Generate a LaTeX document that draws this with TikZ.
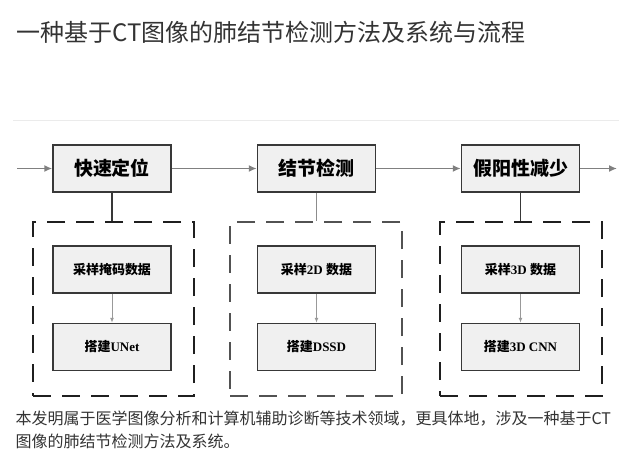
\documentclass[tikz,border=0pt]{standalone}
\usepackage{fontspec}
\setmainfont{Liberation Serif}
\newfontfamily\cjk{Noto Sans CJK SC}
\usetikzlibrary{arrows.meta}

\newcommand{\zh}[1]{{\cjk #1}}

\tikzset{
    stage/.style={draw=black!78, line width=1.5pt, fill=black!6, minimum width=118pt,
        minimum height=47pt, inner sep=0pt, font=\bfseries\fontsize{19}{19}\selectfont},
    substep/.style={stage, font=\bfseries\fontsize{13}{13}\selectfont},
    group/.style={draw=black!88, line width=2.6pt, dash pattern=on 18pt off 11pt,
        minimum height=174pt, inner sep=0pt},
    flow/.style={draw=black!50, line width=1.5pt, -{Latex[length=8pt,width=7pt]}},
    inflow/.style={draw=black!40, line width=1pt, -{Latex[length=5pt,width=4pt]}},
}

\begin{document}
\begin{tikzpicture}[x=1pt, y=-1pt]
    \useasboundingbox (0,0) rectangle (619,456);

    \node[anchor=west, text=black!80, font=\cjk\fontsize{24}{24}\selectfont] (title) at (13,32.5) {一种基于CT图像的肺结节检测方法及系统与流程};
    \draw[black!8, line width=1pt] (13,120.5) -- (619,120.5);

    % main stages
    \node[stage] (fast) at (112,168.5) {\zh{快速定位}};
    \node[stage] (detect) at (316.5,168.5) {\zh{结节检测}};
    \node[stage] (reduce) at (520.5,168.5) {\zh{假阳性减少}};

    \coordinate (in) at (17,168.5);
    \coordinate (out) at (617,168.5);
    \draw[flow] (in) -- (fast);
    \draw[flow] (fast) -- (detect);
    \draw[flow] (detect) -- (reduce);
    \draw[flow] (reduce) -- (out);

    % dashed groups
    \node[group, minimum width=161pt] (grpA) at (113.5,309) {};
    \node[group, minimum width=172pt, draw=black!68, line width=2.2pt] (grpB) at (316,309) {};
    \node[group, minimum width=162pt] (grpC) at (521,309) {};

    \draw[black!78, line width=1.5pt] (fast.south) -- (fast.south |- grpA.north);
    \draw[black!45, line width=1.5pt] (detect.south) -- (detect.south |- grpB.north);
    \draw[black!78, line width=1.5pt] (reduce.south) -- (reduce.south |- grpC.north);

    % sub steps
    \node[substep] (maskA) at (112,269.5) {\zh{采样掩码数据}};
    \node[substep] (unetA) at (112,347) {\zh{搭建}UNet};
    \node[substep] (dataB) at (316.5,269.5) {\zh{采样}2D \zh{数据}};
    \node[substep] (ssdB) at (316.5,347) {\zh{搭建}DSSD};
    \node[substep] (dataC) at (520.5,269.5) {\zh{采样}3D \zh{数据}};
    \node[substep] (cnnC) at (520.5,347) {\zh{搭建}3D CNN};

    \draw[inflow] (maskA) -- (unetA);
    \draw[inflow] (dataB) -- (ssdB);
    \draw[inflow] (dataC) -- (cnnC);

    \node[anchor=west, text=black!80, font=\cjk\fontsize{16}{16}\selectfont] (line1) at (12,419) {本发明属于医学图像分析和计算机辅助诊断等技术领域，更具体地，涉及一种基于CT};
    \node[anchor=west, text=black!80, font=\cjk\fontsize{16}{16}\selectfont] (line2) at (12,441) {图像的肺结节检测方法及系统。};

\end{tikzpicture}
\end{document}
